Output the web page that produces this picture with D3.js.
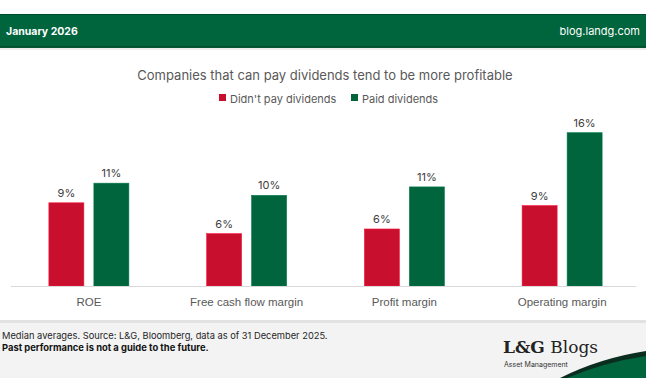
<!DOCTYPE html>
<html>
<head>
<meta charset="utf-8">
<script src="https://cdn.jsdelivr.net/npm/d3@7"></script>
<style>
	body { margin: 0; background: #fff; }
	svg { display: block; font-family: "Inter", "Liberation Sans", sans-serif; }
</style>
</head>
<body>
<svg width="646" height="388"></svg>
<script>
const categories = ['ROE', 'Free cash flow margin', 'Profit margin', 'Operating margin'];
const series = ["Didn't pay dividends", 'Paid dividends'];
const didnt_pay = [8.9, 5.6, 6.1, 8.6];
const paid = [11.0, 9.7, 10.6, 16.4];
const colors = ['#c8102e', '#00643c'];

const title = 'Companies that can pay dividends tend to be more profitable';
const header_left = 'January 2026';
const header_right = 'blog.landg.com';
const note = 'Median averages. Source: L&G, Bloomberg, data as of 31 December 2025.';
const note_bold = 'Past performance is not a guide to the future.';

var svg = d3.select("svg");

//Header band
svg.append("rect").attr("x", 0).attr("y", 14).attr("width", 646).attr("height", 34).attr("fill", "#00643c");
svg.append("rect").attr("x", 0).attr("y", 14).attr("width", 646).attr("height", 1).attr("fill", "#004d2e");
svg.append("rect").attr("x", 0).attr("y", 46).attr("width", 646).attr("height", 1.5).attr("fill", "#004d2e");
svg.append("rect").attr("x", 0).attr("y", 48).attr("width", 646).attr("height", 2).attr("fill", "#ececec");
svg.append("text").attr("x", 6).attr("y", 35).attr("fill", "#fff")
	.style("font-size", "10.5px").style("font-weight", "700").text(header_left);
svg.append("text").attr("x", 640).attr("y", 35).attr("fill", "#fff").attr("text-anchor", "end")
	.style("font-size", "11px").text(header_right);

//Title and legend
svg.append("text").attr("x", 325).attr("y", 80).attr("text-anchor", "middle").attr("fill", "#595959")
	.style("font-size", "13px").text(title);

var legend = svg.append("g").selectAll("g").data(series).enter().append("g")
	.attr("transform", (d, i) => "translate(" + [219, 351][i] + ",0)");
legend.append("rect").attr("x", 0).attr("y", 94).attr("width", 7).attr("height", 7)
	.attr("fill", (d, i) => colors[i]);
legend.append("text").attr("x", 11).attr("y", 102.5).attr("fill", "#595959")
	.style("font-size", "11px").text(d => d);

//Scales
var x0 = d3.scaleBand().domain(categories).range([10, 641]);
var x1 = d3.scaleBand().domain(series).range([-40, 40]).paddingInner(10 / 45);
var y = d3.scaleLinear().domain([0, 16.4]).range([286, 132.7]);

var data = [];
categories.forEach(function(c, i) {
	data.push({'cat': c, 's': series[0], 'v': didnt_pay[i], 'color': colors[0]});
	data.push({'cat': c, 's': series[1], 'v': paid[i], 'color': colors[1]});
});

var g = svg.append("g");
g.selectAll("rect").data(data).enter().append("rect")
	.attr("x", d => x0(d.cat) + x0.bandwidth() / 2 + x1(d.s))
	.attr("y", d => y(d.v))
	.attr("width", x1.bandwidth())
	.attr("height", d => y(0) - y(d.v))
	.attr("fill", d => d.color)
	.attr("stroke", d => d3.color(d.color).brighter(0.6))
	.attr("stroke-width", 0.6);

g.selectAll("text").data(data).enter().append("text")
	.attr("x", d => x0(d.cat) + x0.bandwidth() / 2 + x1(d.s) + x1.bandwidth() / 2)
	.attr("y", d => y(d.v) - 6)
	.attr("text-anchor", "middle")
	.attr("fill", "#404040")
	.style("font-size", "11px")
	.text(d => d3.format(".0f")(d.v) + '%');

//Axis
var axis = svg.append("g").attr("transform", "translate(0," + y(0) + ")")
	.call(d3.axisBottom(x0).tickSize(0).tickPadding(12));
axis.select(".domain").attr("stroke", "#d9d9d9").attr("d", "M11,0.5H636");
axis.selectAll("text").attr("fill", "#595959").style("font-size", "11.5px").style("font-family", null);

//Footer
svg.append("rect").attr("x", 0).attr("y", 320).attr("width", 646).attr("height", 58).attr("fill", "#f3f3f3");
svg.append("rect").attr("x", 0).attr("y", 320).attr("width", 646).attr("height", 3).attr("fill", "#e2e2e2");
svg.append("text").attr("x", 2).attr("y", 339).attr("fill", "#262626")
	.style("font-size", "9.3px").text(note);
svg.append("text").attr("x", 2).attr("y", 351).attr("fill", "#111")
	.style("font-size", "9.4px").style("font-weight", "700").text(note_bold);

//Logo
var logo = svg.append("text").attr("x", 503).attr("y", 353).attr("fill", "#222")
	.style("font-family", "'DejaVu Serif', 'Liberation Serif', serif").style("font-size", "17px");
logo.append("tspan").style("font-weight", "700").text("L&G");
logo.append("tspan").text(" Blogs");
svg.append("text").attr("x", 504).attr("y", 366.5).attr("fill", "#333")
	.style("font-size", "7px").text("Asset Management");
svg.append("path").attr("d", "M560,378 Q600,358 646,351 L646,378 Z").attr("fill", "#0b2d20");
svg.append("path").attr("d", "M567,378 Q605,362 646,356 L646,378 Z").attr("fill", "#00643c");
</script>
</body>
</html>
